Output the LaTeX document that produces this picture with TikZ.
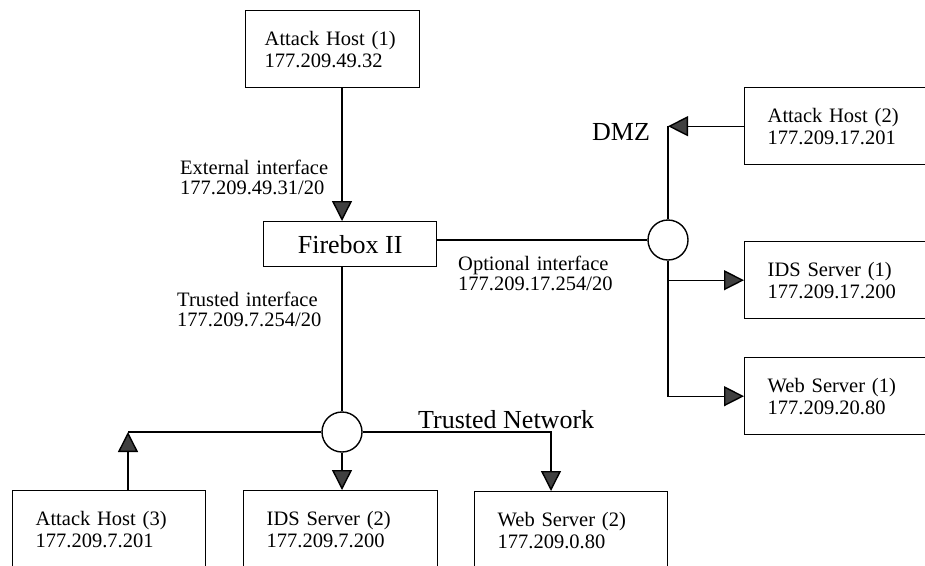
\documentclass[tikz,border=0pt]{standalone}
\usepackage{fontspec}
\setmainfont{Liberation Serif}
\usetikzlibrary{arrows.meta, calc}

\tikzset{
  link/.style={line width=1.4pt},
  arr/.style={link, -{Triangle[length=20pt,width=20pt,fill=black!75]}},
  host/.style={draw, line width=1.4pt, inner xsep=23pt, inner ysep=0pt,
    minimum height=77pt, align=left, anchor=north west,
    font=\fontsize{20.5}{22}\selectfont},
  hub/.style={circle, draw, line width=1.4pt, minimum size=40pt, inner sep=0pt},
  lbl/.style={anchor=base west, text width=190pt, align=left, inner sep=0pt,
    font=\fontsize{20.5}{20.5}\selectfont},
  big/.style={anchor=base west, inner sep=0pt, font=\fontsize{26}{28}\selectfont}
}

\begin{document}
\begin{tikzpicture}[x=1pt, y=-1pt]
    \clip (0,0) rectangle (925,565);

    % Hosts
    \node[host, text width=136pt, inner xsep=19pt] (ah1) at (245,10) {Attack Host (1)\\177.209.49.32};
    \node[host, text width=190pt] (ah2) at (744,87) {Attack Host (2)\\177.209.17.201};
    \node[host, text width=190pt] (ids1) at (744,241) {IDS Server (1)\\177.209.17.200};
    \node[host, text width=190pt] (web1) at (744,357) {Web Server (1)\\177.209.20.80};
    \node[host, text width=147pt] (ah3) at (12,490) {Attack Host (3)\\177.209.7.201};
    \node[host, text width=148pt] (ids2) at (243,490) {IDS Server (2)\\177.209.7.200};
    \node[host, text width=147pt] (web2) at (474,491) {Web Server (2)\\177.209.0.80};

    % Firewall and hubs
    \node[draw, line width=1.4pt, minimum width=173pt, minimum height=45pt, anchor=north west,
      font=\fontsize{26}{28}\selectfont] (fb) at (263,221) {Firebox II};
    \node[hub] (dmz) at (668,240) {};
    \node[hub] (tn) at (342,432) {};

    % Labels
    \node[lbl] (ext) at (180,174) {External interface\\177.209.49.31/20};
    \node[lbl] (tru) at (177,306) {Trusted interface\\177.209.7.254/20};
    \node[lbl] (opt) at (458,270) {Optional interface\\177.209.17.254/20};
    \node[big] (dmzlbl) at (592,140) {DMZ};
    \node[big] (tnlbl) at (418,428) {Trusted Network};

    \coordinate (ah3c) at (128,432);
    \coordinate (web2c) at ($(web2.north west)+(77,0)$);

    % Connections
    \draw[arr] (ah1.south -| tn) -- (fb.north -| tn);
    \draw[link] (fb.south -| tn) -- (tn);
    \draw[link] (fb.east |- dmz) -- (dmz);
    \draw[link] (dmz) -- (ah2.west -| dmz);
    \draw[arr] (ah2.west) -- (ah2.west -| dmz);
    \draw[arr] (dmz) |- (ids1.west);
    \draw[arr] (dmz) |- (web1.west);
    \draw[arr] (ah3.north -| ah3c) -- (ah3c);
    \draw[link] (ah3c) -- (tn);
    \draw[arr] (tn) -- (ids2.north -| tn);
    \draw[arr] (tn) -| (web2c);
\end{tikzpicture}
\end{document}
